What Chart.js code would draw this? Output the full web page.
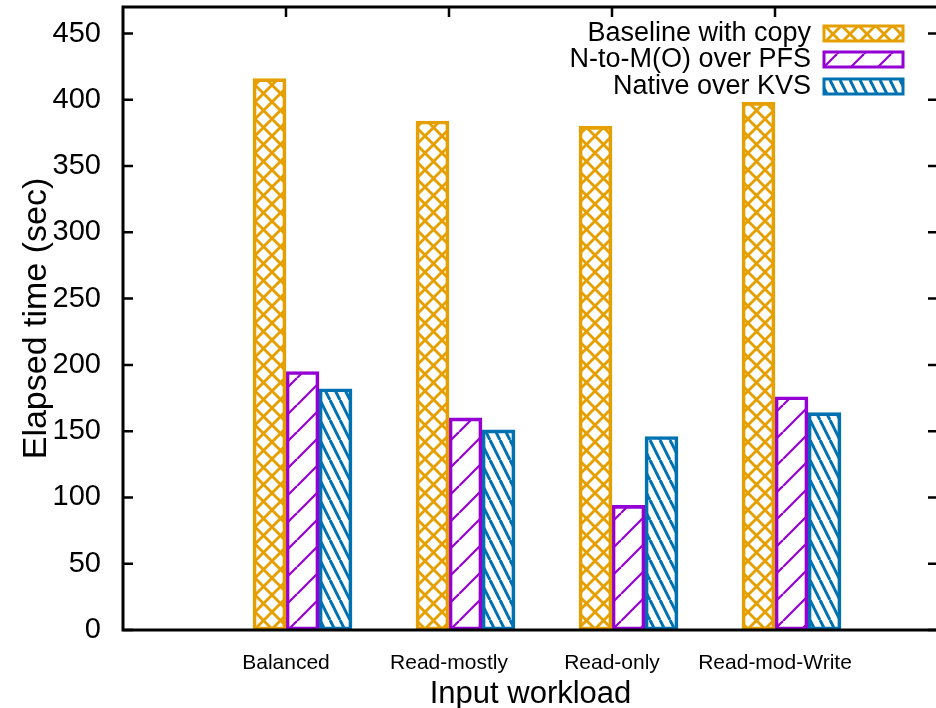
<!DOCTYPE html>
<html>
<head>
<meta charset="utf-8">
<script src="https://cdn.jsdelivr.net/npm/chart.js@4.4.1/dist/chart.umd.min.js"></script>
<style>
  html, body { margin: 0; padding: 0; overflow: hidden; background: #fff; }
  #chart { display: block; }
</style>
</head>
<body>
<canvas id="chart" width="950" height="708"></canvas>
<script>
// Data
const workloads = ['Balanced', 'Read-mostly', 'Read-only', 'Read-mod-Write'];
const seriesNames = ['Baseline with copy', 'N-to-M(O) over PFS', 'Native over KVS'];
const baselineCopy = [416, 384, 380, 398];
const ntomPfs = [195, 160, 94, 176];
const nativeKvs = [182, 151, 146, 164];
const yTicks = [0, 50, 100, 150, 200, 250, 300, 350, 400, 450];

const FONT = "'Liberation Sans', Arial, sans-serif";
const ORANGE = '#e69f00';
const PURPLE = '#9400d3';
const BLUE = '#0072b2';

// gnuplot-like fill patterns
function makePattern(kind, color) {
    const c = document.createElement('canvas');
    let w, h;
    if (kind === 'cross') { w = 17; h = 17; }
    else if (kind === 'slash') { w = 27; h = 27; }
    else { w = 10; h = 20; }
    c.width = w;
    c.height = h;
    const ctx = c.getContext('2d');
    ctx.strokeStyle = color;
    if (kind === 'cross') {
        ctx.lineWidth = 2.8;
        for (const o of [-w, 0, w]) {
            ctx.beginPath(); ctx.moveTo(o, 0); ctx.lineTo(o + w, h); ctx.stroke();
            ctx.beginPath(); ctx.moveTo(o + w, 0); ctx.lineTo(o, h); ctx.stroke();
        }
    } else if (kind === 'slash') {
        ctx.lineWidth = 2.2;
        for (const o of [-w, 0, w]) {
            ctx.beginPath(); ctx.moveTo(o + w, 0); ctx.lineTo(o, h); ctx.stroke();
        }
    } else {
        ctx.lineWidth = 3;
        for (const o of [-w, 0, w]) {
            ctx.beginPath(); ctx.moveTo(o, 0); ctx.lineTo(o + w, h); ctx.stroke();
        }
    }
    return ctx.createPattern(c, 'repeat');
}

const pad = arr => [null, ...arr, null];

// frame, inward ticks and the key, drawn like gnuplot
const framePlugin = {
    id: 'frame',
    afterDatasetsDraw(chart) {
        const { ctx, chartArea: a, scales } = chart;
        ctx.save();
        ctx.strokeStyle = '#000';
        ctx.lineWidth = 3;
        ctx.strokeRect(a.left, a.top, a.right - a.left, a.bottom - a.top);
        ctx.lineWidth = 2.5;
        yTicks.forEach(v => {
            const y = scales.y.getPixelForValue(v);
            ctx.beginPath();
            ctx.moveTo(a.left, y); ctx.lineTo(a.left + 10, y);
            ctx.moveTo(a.right, y); ctx.lineTo(a.right - 10, y);
            ctx.stroke();
        });
        workloads.forEach((w, i) => {
            const x = scales.x.getPixelForValue(i + 1);
            ctx.beginPath();
            ctx.moveTo(x, a.top); ctx.lineTo(x, a.top + 10);
            ctx.stroke();
        });

        // key
        const rows = [33, 59, 86];
        ctx.font = '27px ' + FONT;
        ctx.textAlign = 'right';
        ctx.textBaseline = 'middle';
        chart.data.datasets.slice(1).forEach((ds, i) => {
            const y = rows[i];
            ctx.fillStyle = '#000';
            ctx.fillText(ds.label, 811, y + 1);
            ctx.fillStyle = ds.backgroundColor;
            ctx.fillRect(824, y - 7, 79, 15);
            ctx.strokeStyle = ds.borderColor;
            ctx.lineWidth = 3;
            ctx.strokeRect(824, y - 7, 79, 15);
        });
        ctx.restore();
    }
};

new Chart(document.getElementById('chart'), {
    type: 'bar',
    data: {
        labels: ['', ...workloads, ''],
        datasets: [
            // empty spacer so each group starts at its tick like gnuplot
            { label: '', data: pad([null, null, null, null]) },
            {
                label: seriesNames[0],
                data: pad(baselineCopy),
                backgroundColor: makePattern('cross', ORANGE),
                borderColor: ORANGE
            },
            {
                label: seriesNames[1],
                data: pad(ntomPfs),
                backgroundColor: makePattern('slash', PURPLE),
                borderColor: PURPLE
            },
            {
                label: seriesNames[2],
                data: pad(nativeKvs),
                backgroundColor: makePattern('back', BLUE),
                borderColor: BLUE
            }
        ]
    },
    options: {
        responsive: false,
        animation: false,
        devicePixelRatio: 1,
        layout: { padding: { top: 7, right: 12, left: 0, bottom: 0 } },
        datasets: {
            bar: { barThickness: 33, borderWidth: 3, borderSkipped: false }
        },
        plugins: {
            legend: { display: false },
            tooltip: { enabled: false }
        },
        scales: {
            x: {
                type: 'category',
                offset: false,
                grid: { display: false, drawTicks: false },
                border: { display: false },
                ticks: {
                    color: '#000',
                    font: { family: FONT, size: 21 },
                    padding: 21,
                    maxRotation: 0,
                    autoSkip: false
                },
                title: {
                    display: true,
                    text: 'Input workload',
                    color: '#000',
                    font: { family: FONT, size: 31, lineHeight: 1 },
                    padding: { top: 0, bottom: -2 }
                },
                afterFit: s => {
                    s.height = 78;
                    s.paddingLeft = 0;
                    s.paddingRight = 0;
                }
            },
            y: {
                min: 0,
                max: 470,
                grid: { display: false, drawTicks: false },
                border: { display: false },
                afterBuildTicks: s => { s.ticks = yTicks.map(v => ({ value: v })); },
                ticks: {
                    color: '#000',
                    font: { family: FONT, size: 29 },
                    padding: 22
                },
                title: {
                    display: true,
                    text: 'Elapsed time (sec)',
                    color: '#000',
                    font: { family: FONT, size: 34, lineHeight: 1 },
                    padding: { top: 20, bottom: 0 }
                },
                afterFit: s => {
                    s.width = 123;
                    s.paddingTop = 0;
                    s.paddingBottom = 0;
                }
            }
        }
    },
    plugins: [framePlugin]
});
</script>
</body>
</html>
